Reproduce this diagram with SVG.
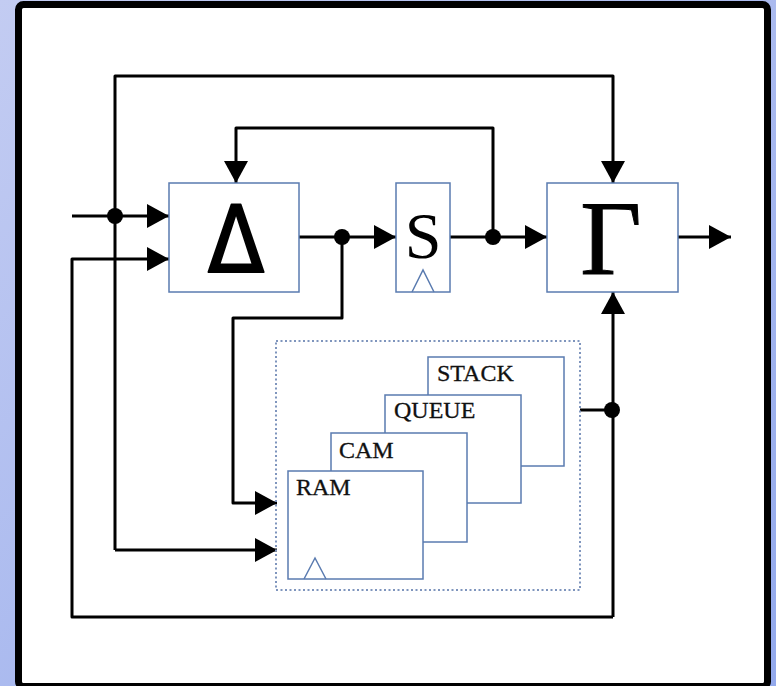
<svg xmlns="http://www.w3.org/2000/svg" width="776" height="686" viewBox="0 0 776 686">
  <defs>
    <linearGradient id="bg" x1="0" y1="0" x2="1" y2="1">
      <stop offset="0" stop-color="#c3ccf2"/>
      <stop offset="1" stop-color="#93a9ec"/>
    </linearGradient>
    <marker id="arr" viewBox="0 0 22 24" refX="22" refY="12" markerWidth="22" markerHeight="24" markerUnits="userSpaceOnUse" orient="auto">
      <path d="M0,0 L22,12 L0,24 Z" fill="#000"/>
    </marker>
    <style>
      .box { fill: #fff; stroke: #5a7bb0; stroke-width: 1.5; }
      .dot-box { fill: none; stroke: #7f95bd; stroke-width: 2; stroke-dasharray: 2 2.5; }
      .wire { fill: none; stroke: #000; stroke-width: 3; stroke-linejoin: round; }
      .arrow { marker-end: url(#arr); }
      .joint { fill: #000; }
      .clk { fill: none; stroke: #5a7bb0; stroke-width: 1.5; }
      .lbl { font-family: "Liberation Serif", "DejaVu Serif", serif; font-size: 24px; fill: #111; stroke: #111; stroke-width: 0.3; }
    </style>
  </defs>

  <rect x="0" y="0" width="776" height="686" fill="url(#bg)"/>
  <rect x="18.5" y="4.5" width="749" height="682" rx="5" fill="#fff" stroke="#000" stroke-width="7"/>

  <g id="connectors">
    <path class="wire arrow" d="M72,216 L169,216"/>
    <path class="wire arrow" d="M613,617 L72,617 L72,259 L169,259"/>
    <path class="wire arrow" d="M299,237 L396,237"/>
    <path class="wire arrow" d="M450,237 L547,237"/>
    <path class="wire arrow" d="M678,237 L731,237"/>
    <path class="wire arrow" d="M493,237 L493,128 L236,128 L236,183"/>
    <path class="wire arrow" d="M115,550 L115,76 L613,76 L613,183"/>
    <path class="wire arrow" d="M115,550 L277,550"/>
    <path class="wire arrow" d="M342,237 L342,318 L233,318 L233,503 L277,503"/>
    <path class="wire arrow" d="M613,617 L613,292"/>
    <path class="wire" d="M580,410 L613,410"/>
    <circle class="joint" cx="115" cy="216" r="8"/>
    <circle class="joint" cx="342" cy="237" r="8"/>
    <circle class="joint" cx="493" cy="237" r="8"/>
    <circle class="joint" cx="612" cy="410" r="8"/>
  </g>

  <g id="delta">
    <rect class="box" x="169" y="183" width="130" height="109"/>
    <text x="236" y="272" text-anchor="middle" font-family="DejaVu Sans, sans-serif" font-size="92" stroke="#000" stroke-width="2" stroke-linejoin="round" transform="translate(236 0) scale(0.9 1) translate(-236 0)">Δ</text>
  </g>

  <g id="s">
    <rect class="box" x="396" y="183" width="54" height="109"/>
    <text x="423" y="258" text-anchor="middle" font-family="Liberation Serif, serif" font-size="66">S</text>
    <path class="clk" d="M412,292 L423,270 L434,292"/>
  </g>

  <g id="gamma">
    <rect class="box" x="547" y="183" width="131" height="109"/>
    <text x="611" y="274" text-anchor="middle" font-family="Liberation Serif, serif" font-size="106" stroke="#000" stroke-width="1">Γ</text>
  </g>

  <g id="memory">
    <rect class="dot-box" x="276" y="341" width="304" height="249"/>
    <g id="stack">
      <rect class="box" x="428" y="357" width="136" height="109"/>
      <text class="lbl" x="437" y="381">STACK</text>
    </g>
    <g id="queue">
      <rect class="box" x="385" y="395" width="136" height="108"/>
      <text class="lbl" x="394" y="418">QUEUE</text>
    </g>
    <g id="cam">
      <rect class="box" x="331" y="433" width="136" height="109"/>
      <text class="lbl" x="339" y="458">CAM</text>
    </g>
    <g id="ram">
      <rect class="box" x="288" y="471" width="135" height="108"/>
      <text class="lbl" x="296" y="495">RAM</text>
      <path class="clk" d="M304,579 L315,558 L326,579"/>
    </g>
  </g>
</svg>
